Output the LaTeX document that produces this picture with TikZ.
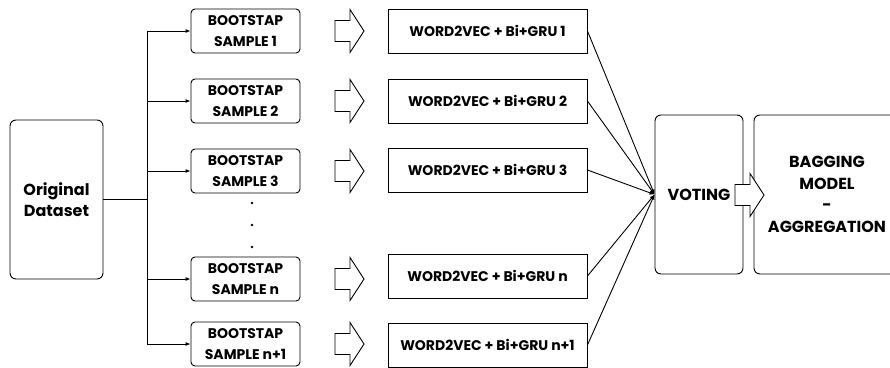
\documentclass[tikz,border=0pt]{standalone}
\usepackage{fontspec}
\setmainfont{Poppins}
\usetikzlibrary{arrows.meta,positioning}

\tikzset{
  bootbox/.style={draw,rounded corners=4pt,minimum width=109pt,minimum height=44pt,align=center,inner sep=0pt},
  modelbox/.style={draw,minimum width=199pt,minimum height=44pt,inner sep=0pt},
  bigbox/.style={draw,rounded corners=6pt,minimum height=159pt,align=center,inner sep=0pt,font=\fontsize{16}{21.5}\selectfont\bfseries},
  fatarrow/.pic={\draw[fill=white] (0,-10.5) -- (15,-10.5) -- (15,-21.5) -- (29,0) -- (15,21.5) -- (15,10.5) -- (0,10.5) -- cycle;}
}

\begin{document}
\begin{tikzpicture}[x=1pt,y=-1pt,line width=0.9pt,font=\fontsize{14}{21}\selectfont\bfseries,>={Latex[length=5pt,width=4pt]}]
  \clip (0,0) rectangle (890,367);
  % input data
  \node[bigbox,minimum width=93pt] (orig) at (56.5,199.5) {Original\\Dataset};
  \coordinate (split) at (147,199.5);
  \draw (orig.east) -- (split);
  % samples and models
  \foreach \y/\m/\k [count=\i] in {31/31/1,101/101/2,171/170/3,279/276/n,344/345/n+1} {
    \node[bootbox] (boot\i) at (245.5,\y) {BOOTSTAP\\SAMPLE \k};
    \draw[->] (split) |- (boot\i.west);
    \pic at (335,\y) {fatarrow};
    \node[modelbox] (model\i) at (487.5,\m) {WORD2VEC + Bi+GRU \k};
  }
  \foreach \d in {203,225,247}
    \fill (252,\d) circle (1.3);
  % voting and aggregation
  \node[bigbox,minimum width=88pt] (vote) at (699,194.5) {VOTING};
  \node[bigbox,minimum width=146pt] (bag) at (827,194.5) {BAGGING\\MODEL\\-\\AGGREGATION};
  \foreach \i in {1,...,5}
    \draw[->] (model\i.east) -- (vote.west);
  \pic at (735,195) {fatarrow};
\end{tikzpicture}
\end{document}
